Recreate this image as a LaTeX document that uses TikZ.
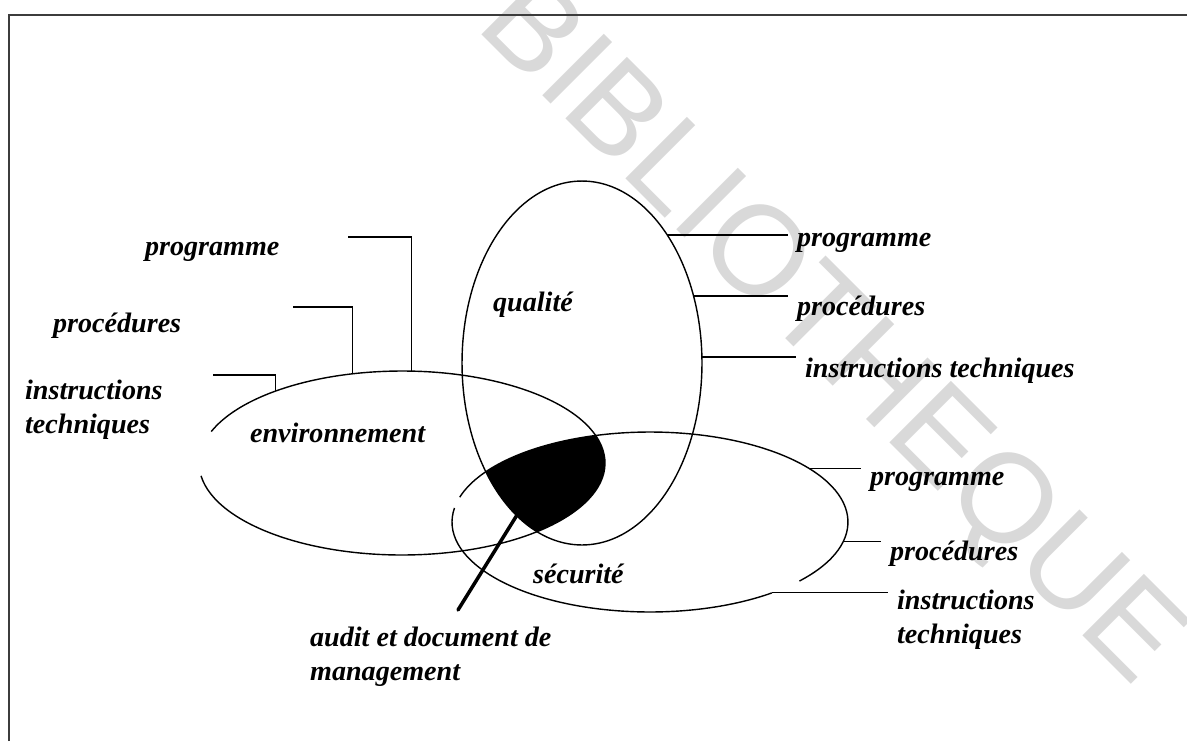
\documentclass[tikz,border=0pt]{standalone}
\usepackage{fontspec}
\setmainfont{Liberation Serif}
\newfontfamily\wmfont{Liberation Sans}
\usetikzlibrary{calc,positioning}
\definecolor{WaterGray}{RGB}{217,217,217}
\definecolor{FrameGray}{RGB}{60,60,60}
\tikzset{
  lbl/.style={anchor=base west,inner xsep=5pt,inner ysep=1pt,align=left,
              font=\fontsize{16}{19}\selectfont\bfseries\itshape},
  ring/.style={line width=0.8pt},
  lead/.style={line width=0.6pt},
  pointer/.style={line width=2pt,line cap=round},
}
\begin{document}
\begin{tikzpicture}[
  x=0.02cm, y=-0.02cm,
  wmark/.style={anchor=base,rotate=-45,text=WaterGray,
                font=\wmfont\fontsize{72}{72}\selectfont},
  frame/.style={FrameGray,line width=0.9pt}
]
\useasboundingbox (0,0) rectangle (1187,741);
% watermark
\node[wmark] (wm) at (805,358) {BIBLIOTHEQUE};
% frame
\coordinate (fL) at (9,741);
\coordinate (fC) at (9,15);
\coordinate (fR) at (1187,15);
\draw[frame] (fL) -- (fC) -- (fR);

% centres of the three sets
\coordinate (qual) at (582,363);
\coordinate (env) at (402,463);
\coordinate (sec) at (650,522);

% common part
\begin{scope}
  \clip (qual) ellipse [x radius=2.4cm, y radius=3.64cm];
  \clip (env) ellipse [x radius=4.06cm, y radius=1.84cm];
  \fill (sec) ellipse [x radius=3.96cm, y radius=1.8cm];
\end{scope}

% outlines
\draw[ring] (qual) ellipse [x radius=2.4cm, y radius=3.64cm];
\draw[ring] ($(env)+(188:4.06cm and 1.84cm)$)
  arc[start angle=188, end angle=520, x radius=4.06cm, y radius=1.84cm];
\draw[ring] ($(sec)+(-41:3.96cm and 1.8cm)$)
  arc[start angle=-41, end angle=164, x radius=3.96cm, y radius=1.8cm];
\draw[ring] ($(sec)+(171:3.96cm and 1.8cm)$)
  arc[start angle=171, end angle=308, x radius=3.96cm, y radius=1.8cm];

% set names
\node[lbl] (qt) at (484,311) {qualité};
\node[lbl] (et) at (241,442) {environnement};
\node[lbl] (st) at (524,583) {sécurité};

% qualite
\coordinate (qA) at ($(qual)+(44.7:2.4cm and 3.64cm)$);
\coordinate (qB) at ($(qual)+(21.6:2.4cm and 3.64cm)$);
\coordinate (qC) at ($(qual)+(1.9:2.4cm and 3.64cm)$);
\node[lbl] (qp) at (788,246) {programme};
\node[lbl] (qr) at (788,315) {procédures};
\node[lbl] (qi) at (796,377) {instructions techniques};
\draw[lead] (qA) -- (qp.west |- qA);
\draw[lead] (qB) -- (qr.west |- qB);
\draw[lead] (qC) -- (qi.west |- qC);

% environnement
\coordinate (eA) at ($(env)+(87.2:4.06cm and 1.84cm)$);
\coordinate (eB) at ($(env)+(104:4.06cm and 1.84cm)$);
\coordinate (eC) at ($(env)+(128.4:4.06cm and 1.84cm)$);
\coordinate (eA1) at (348,237);
\coordinate (eB1) at (293,307);
\coordinate (eC1) at (213,375);
\node[lbl] (ep) at (136,255) {programme};
\node[lbl] (er) at (44,332) {procédures};
\node[lbl] (ei) at (16,433) {instructions\\techniques};
\draw[lead] (eA) |- (eA1);
\draw[lead] (eB) |- (eB1);
\draw[lead] (eC) |- (eC1);

% securite
\coordinate (sA) at ($(sec)+(36.5:3.96cm and 1.8cm)$);
\coordinate (sB) at ($(sec)+(-12.8:3.96cm and 1.8cm)$);
\coordinate (sC) at ($(sec)+(-52:3.96cm and 1.8cm)$);
\node[lbl] (sp) at (861,485) {programme};
\node[lbl] (sr) at (881,560) {procédures};
\node[lbl] (si) at (888,643) {instructions\\techniques};
\draw[lead] (sA) -- (sp.west |- sA);
\draw[lead] (sB) -- (sr.west |- sB);
\draw[lead] (sC) -- (si.west |- sC);

% audit
\coordinate (blk) at (517,515);
\coordinate (tip) at (458,610);
\node[lbl] (au) at (301,680) {audit et document de\\management};
\draw[pointer] (blk) -- (tip);
\end{tikzpicture}
\end{document}
